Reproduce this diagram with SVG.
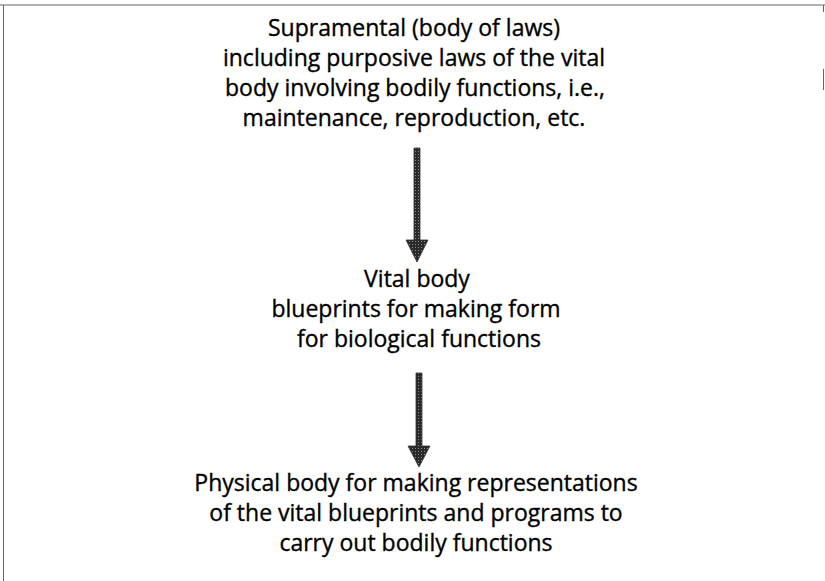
<svg xmlns="http://www.w3.org/2000/svg" width="825" height="581" viewBox="0 0 825 581">
<style>
.t{font-family:"Open Sans","Liberation Sans",sans-serif;font-size:23px;fill:#000;stroke:#000;stroke-width:0.35;text-anchor:middle}
.frame{stroke:#666;stroke-width:1;fill:none}
.arrow{fill:url(#stip);stroke:#333;stroke-width:0.8}
</style>
<defs>
<pattern id="stip" width="3" height="3" patternUnits="userSpaceOnUse">
<rect width="3" height="3" fill="#2a2a2a"/>
<rect x="1" y="1" width="1" height="1" fill="#8a8a8a"/>
</pattern>
</defs>
<rect width="825" height="581" fill="#fff"/>
<g id="frame">
<line class="frame" x1="0" y1="5" x2="825" y2="5"/>
<line class="frame" x1="3.5" y1="5" x2="3.5" y2="581"/>
<line class="frame" x1="823.5" y1="5" x2="823.5" y2="12"/>
<line class="frame" x1="823.5" y1="69" x2="823.5" y2="90"/>
</g>
<g id="supramental">
<text class="t" x="414" y="36">Supramental (body of laws)</text>
<text class="t" x="414" y="66">including purposive laws of the vital</text>
<text class="t" x="415" y="96">body involving bodily functions, i.e.,</text>
<text class="t" x="414" y="126">maintenance, reproduction, etc.</text>
</g>
<g id="vital">
<text class="t" x="417" y="287">Vital body</text>
<text class="t" x="416" y="317">blueprints for making form</text>
<text class="t" x="419" y="347">for biological functions</text>
</g>
<g id="physical">
<text class="t" x="416" y="491">Physical body for making representations</text>
<text class="t" x="416" y="521">of the vital blueprints and programs to</text>
<text class="t" x="416" y="551">carry out bodily functions</text>
</g>
<g id="connectors">
<path class="arrow" d="M414,148 H420 V240 H428 L417,262 L406,240 H414 Z"/>
<path class="arrow" d="M416,373 H422 V446 H430 L419,467 L408,446 H416 Z"/>
</g>
</svg>
